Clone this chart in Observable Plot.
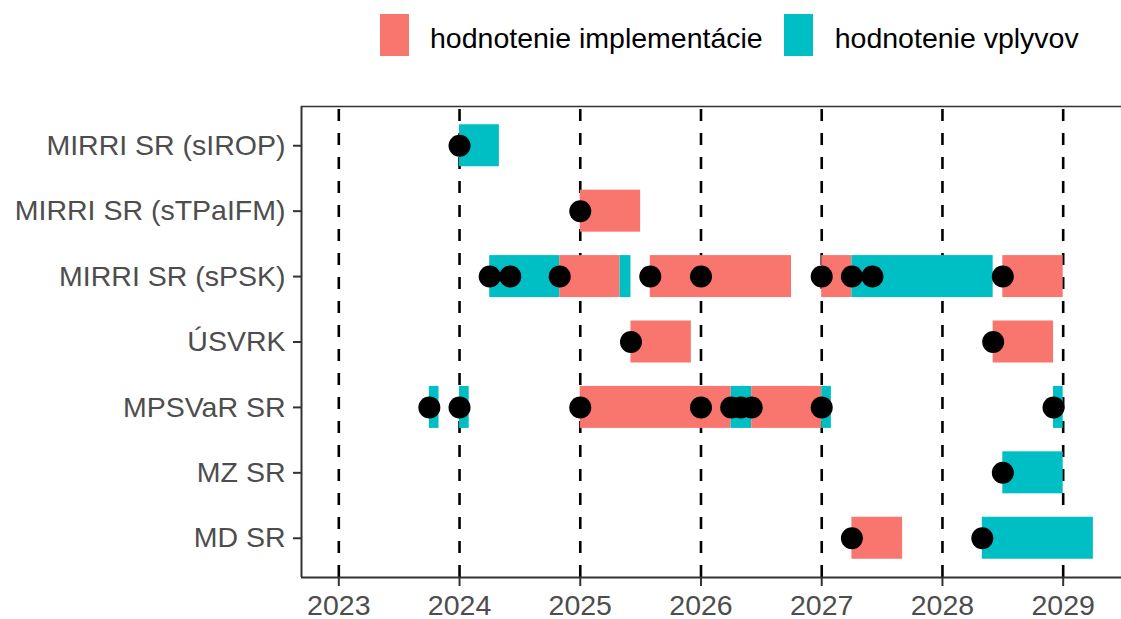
<!DOCTYPE html>
<html>
<head>
<meta charset="utf-8">
<script src="https://cdn.jsdelivr.net/npm/d3@7"></script>
<script src="https://cdn.jsdelivr.net/npm/@observablehq/plot@0.6"></script>
<style>
  html, body { margin: 0; padding: 0; background: #fff; }
  body { width: 1121px; height: 619px; overflow: hidden; font-family: "Liberation Sans", Arial, sans-serif; }
  #legend { position: relative; height: 70px; display: flex; align-items: flex-start; padding-left: 380px; padding-top: 14px; box-sizing: border-box; }
  #legend .sw { width: 29px; height: 42px; flex: none; }
  #legend .lb { font-size: 28.5px; line-height: 28px; margin-top: 10px; color: #000; white-space: nowrap; }
  #chart svg [aria-label$="-axis tick"] { stroke: #333; stroke-width: 2; }
  #chart svg [aria-label$="-axis tick label"] { fill: #4d4d4d; }
</style>
</head>
<body>
<div id="legend"></div>
<div id="chart"></div>
<script>
// Categories (top to bottom)
const orgs = ["MIRRI SR (sIROP)", "MIRRI SR (sTPaIFM)", "MIRRI SR (sPSK)", "ÚSVRK", "MPSVaR SR", "MZ SR", "MD SR"];
const types = ["hodnotenie implementácie", "hodnotenie vplyvov"];
const colors = ["#F8766D", "#00BFC4"];
const years = [2023, 2024, 2025, 2026, 2027, 2028, 2029];

// Bars: organisation, start, end, type index
const barOrg   = ["MIRRI SR (sIROP)", "MIRRI SR (sTPaIFM)",
  "MIRRI SR (sPSK)", "MIRRI SR (sPSK)", "MIRRI SR (sPSK)", "MIRRI SR (sPSK)", "MIRRI SR (sPSK)", "MIRRI SR (sPSK)", "MIRRI SR (sPSK)",
  "ÚSVRK", "ÚSVRK",
  "MPSVaR SR", "MPSVaR SR", "MPSVaR SR", "MPSVaR SR", "MPSVaR SR", "MPSVaR SR", "MPSVaR SR",
  "MZ SR", "MD SR", "MD SR"];
const barStart = [2024.0, 2025.0,
  2024.25, 2024.83, 2025.33, 2025.58, 2027.0, 2027.25, 2028.5,
  2025.42, 2028.42,
  2023.75, 2024.0, 2025.0, 2026.25, 2026.42, 2027.0, 2028.92,
  2028.5, 2027.25, 2028.33];
const barEnd   = [2024.33, 2025.5,
  2024.83, 2025.33, 2025.42, 2026.75, 2027.25, 2028.42, 2029.0,
  2025.92, 2028.92,
  2023.83, 2024.08, 2026.25, 2026.42, 2027.0, 2027.08, 2029.0,
  2029.0, 2027.67, 2029.25];
const barType  = [1, 0,
  1, 0, 1, 0, 0, 1, 0,
  0, 0,
  1, 1, 0, 1, 0, 1, 1,
  1, 0, 1];

// Points (start dates)
const ptOrg  = ["MIRRI SR (sIROP)", "MIRRI SR (sTPaIFM)",
  "MIRRI SR (sPSK)", "MIRRI SR (sPSK)", "MIRRI SR (sPSK)", "MIRRI SR (sPSK)", "MIRRI SR (sPSK)", "MIRRI SR (sPSK)", "MIRRI SR (sPSK)", "MIRRI SR (sPSK)", "MIRRI SR (sPSK)",
  "ÚSVRK", "ÚSVRK",
  "MPSVaR SR", "MPSVaR SR", "MPSVaR SR", "MPSVaR SR", "MPSVaR SR", "MPSVaR SR", "MPSVaR SR", "MPSVaR SR", "MPSVaR SR",
  "MZ SR", "MD SR", "MD SR"];
const ptDate = [2024.0, 2025.0,
  2024.25, 2024.42, 2024.83, 2025.58, 2026.0, 2027.0, 2027.25, 2027.42, 2028.5,
  2025.42, 2028.42,
  2023.75, 2024.0, 2025.0, 2026.0, 2026.25, 2026.33, 2026.42, 2027.0, 2028.92,
  2028.5, 2027.25, 2028.33];

const bars = barOrg.map((o, i) => ({org: o, start: barStart[i], end: barEnd[i], type: types[barType[i]]}));
const pts = ptOrg.map((o, i) => ({org: o, date: ptDate[i]}));
const idx = o => orgs.indexOf(o);

// legend
const leg = document.getElementById("legend");
types.forEach((t, i) => {
  const sw = document.createElement("div");
  sw.className = "sw";
  sw.style.background = colors[i];
  sw.style.marginLeft = i === 0 ? "0px" : "21px";
  const lb = document.createElement("div");
  lb.className = "lb";
  lb.textContent = t;
  lb.style.marginLeft = i === 0 ? "21px" : "22px";
  leg.appendChild(sw);
  leg.appendChild(lb);
});

const xMin = 2022.691, xMax = 2029.483;
const yTop = -0.6, yBottom = orgs.length - 1 + 0.6;
const half = 0.321;

const chart = Plot.plot({
  width: 1121,
  height: 549,
  marginLeft: 301,
  marginRight: 0,
  marginTop: 36,
  marginBottom: 42,
  style: {fontSize: "28.5px", fontFamily: "'Liberation Sans', Arial, sans-serif", color: "#4d4d4d", background: "white", overflow: "visible"},
  x: {domain: [xMin, xMax], ticks: years, tickFormat: d => String(d), tickSize: 9, tickPadding: 8, label: null},
  y: {domain: [yBottom, yTop], ticks: d3.range(orgs.length), tickFormat: i => orgs[i], tickSize: 8, tickPadding: 8, label: null},
  color: {domain: types, range: colors},
  marks: [
    Plot.ruleX(years, {stroke: "black", strokeWidth: 2.6, strokeDasharray: "12,12", strokeDashoffset: 21}),
    Plot.rect(bars, {x1: "start", x2: "end", y1: d => idx(d.org) - half, y2: d => idx(d.org) + half, fill: "type"}),
    Plot.dot(pts, {x: "date", y: d => idx(d.org), r: 11, fill: "black", stroke: "none"}),
    Plot.ruleX([xMin], {stroke: "#333", strokeWidth: 2}),
    Plot.ruleY([yBottom], {stroke: "#333", strokeWidth: 2}),
    Plot.ruleY([yTop], {stroke: "#333", strokeWidth: 1.6})
  ]
});
document.getElementById("chart").appendChild(chart);
</script>
</body>
</html>
